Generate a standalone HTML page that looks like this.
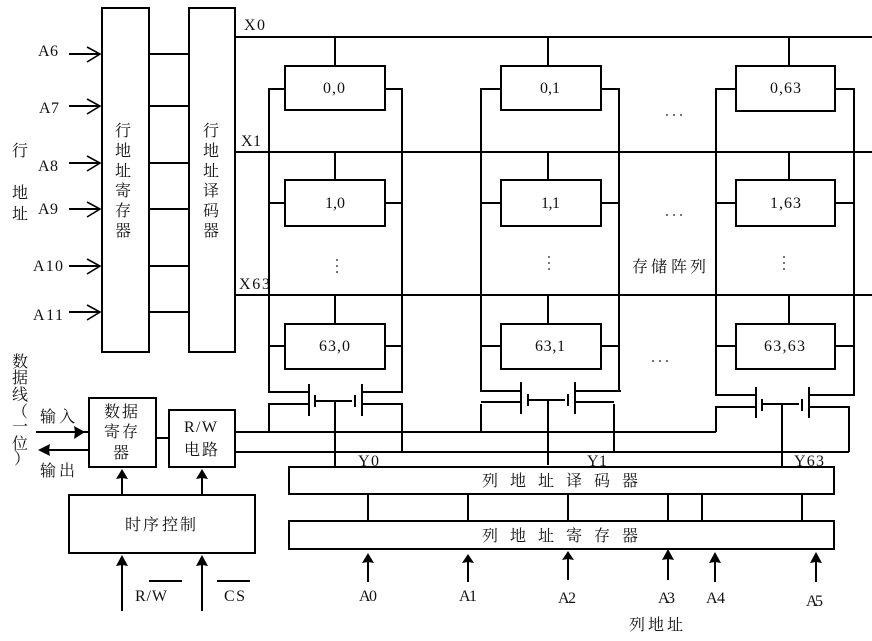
<!DOCTYPE html>
<html><head><meta charset="utf-8">
<style>
html,body{margin:0;padding:0;background:#fff}
svg{display:block}
.l{stroke:#000;stroke-width:2;fill:none;shape-rendering:crispEdges}
.o{stroke:#000;stroke-width:1.6;fill:none}
.b{stroke:#000;stroke-width:2;fill:#fff;shape-rendering:crispEdges}
.a{fill:#000;stroke:none}
text{fill:#111}
.c{font-family:"Liberation Serif","Noto Serif CJK SC",serif;font-size:16px}
.m{font-family:"Liberation Serif",serif;font-size:16px}
.d{fill:#777;stroke:none}
</style></head><body>
<svg width="872" height="641" viewBox="0 0 872 641" xmlns="http://www.w3.org/2000/svg">
<rect width="872" height="641" fill="#fff"/>

<!-- labels under lines -->
<g class="m">
<text x="244" y="30" textLength="21" lengthAdjust="spacing">X0</text>
<text x="241" y="146" textLength="20" lengthAdjust="spacing">X1</text>
<text x="239" y="289" textLength="31" lengthAdjust="spacing">X63</text>
<text x="358" y="466" textLength="21" lengthAdjust="spacing">Y0</text>
<text x="587" y="466" textLength="20" lengthAdjust="spacing">Y1</text>
<text x="794" y="466" textLength="30" lengthAdjust="spacing">Y63</text>
</g>

<!-- row registers -->
<rect class="b" x="102" y="8" width="47" height="344"/>
<rect class="b" x="189" y="8" width="46" height="344"/>
<path class="l" d="M69 54H100M69 106H100M69 163H100M69 209H100M69 266H100M69 312H100"/>
<path class="o" d="M87 47L100 54L87 62M87 99L100 106L87 114M87 156L100 163L87 171M87 202L100 209L87 217M87 259L100 266L87 274M87 305L100 312L87 320"/>
<path class="l" d="M149 54H189M149 106H189M149 163H189M149 209H189M149 266H189M149 312H189"/>

<!-- word lines -->
<path class="l" d="M235 37H872M235 152H872M235 295H872"/>

<!-- rails -->
<path class="l" d="M285 89H269V392H309M385 89H402V392H362"/>
<path class="l" d="M501 89H481V391H521M601 89H619V391H575M619 391H621"/>
<path class="l" d="M736 89H716V395H756M835 89H854V395H809"/>
<path class="l" d="M269 203H285M385 203H403M481 203H501M601 203H619M716 203H736M835 203H854"/>
<path class="l" d="M269 346H285M385 346H403M481 346H501M601 346H619M716 346H736M835 346H854"/>

<!-- cell taps -->
<path class="l" d="M335 37V66M335 152V180M335 295V324M548 37V66M548 152V180M548 295V324M789 37V66M789 152V180M789 295V324"/>

<!-- cells -->
<rect class="b" x="285" y="66" width="100" height="44"/>
<rect class="b" x="285" y="180" width="100" height="46"/>
<rect class="b" x="285" y="324" width="100" height="45"/>
<rect class="b" x="501" y="66" width="100" height="44"/>
<rect class="b" x="501" y="180" width="100" height="46"/>
<rect class="b" x="501" y="324" width="100" height="45"/>
<rect class="b" x="736" y="66" width="99" height="45"/>
<rect class="b" x="736" y="180" width="99" height="46"/>
<rect class="b" x="736" y="324" width="99" height="45"/>

<!-- transistors -->
<path class="l" d="M309 384V416M315 395V407M315 401H352M355 395V407M362 384V416"/>
<path class="l" d="M269 432V404H309M362 404H402V452"/>
<path class="l" d="M335 401V467"/>
<path class="l" d="M521 382V414M528 394V406M528 400H565M568 394V406M575 382V414"/>
<path class="l" d="M481 402H521M481 404V432M575 402H614M614 404V452"/>
<path class="l" d="M548 400V465"/>
<path class="l" d="M756 387V418M762 399V411M762 404H799M802 399V411M809 387V418"/>
<path class="l" d="M716 432V407H756M809 407H849V452"/>
<path class="l" d="M782 404V467"/>

<!-- bit lines -->
<path class="l" d="M235 432H716M235 452H849"/>

<!-- column decoder/register -->
<rect class="b" x="289" y="467" width="545" height="27"/>
<rect class="b" x="289" y="521" width="545" height="28"/>
<path class="l" d="M368 494V521M468 494V521M568 494V521M668 494V521M702 494V521M802 494V521"/>

<!-- column arrows -->
<path class="l" d="M368 560V582M468 560V582M568 558V580M668 556V580M715 560V582M816 560V582"/>
<path class="a" d="M368 553L374 563L368 562L362 563Z"/>
<path class="a" d="M468 554L474 563L468 562L462 563Z"/>
<path class="a" d="M568 551L574 560L568 559L562 560Z"/>
<path class="a" d="M668 549L674 560L668 559L662 560Z"/>
<path class="a" d="M715 552L721 563L715 562L709 563Z"/>
<path class="a" d="M816 552L822 563L816 562L810 563Z"/>

<!-- data blocks -->
<rect class="b" x="89" y="398" width="67" height="69"/>
<rect class="b" x="169" y="410" width="66" height="57"/>
<path class="l" d="M156 438H169"/>
<rect class="b" x="69" y="495" width="186" height="58"/>

<path class="l" d="M36 432H89M44 450H89"/>
<path class="a" d="M85 432L74 426L75 432L74 439Z"/>
<path class="a" d="M38 450L50 444L49 450L50 456Z"/>

<path class="l" d="M122 477V495M202 477V495M122 564V611M202 564V611"/>
<path class="a" d="M122 469L128 479L122 478L116 479Z"/>
<path class="a" d="M202 469L208 479L202 478L196 479Z"/>
<path class="a" d="M122 555L128 566L122 565L116 566Z"/>
<path class="a" d="M202 555L208 566L202 565L196 566Z"/>
<path class="l" d="M149 581H182M217 581H250"/>

<!-- dots -->
<g class="d">
<rect x="336" y="259" width="2" height="2"/><rect x="336" y="265" width="2" height="2"/><rect x="336" y="271" width="2" height="2"/>
<rect x="548" y="256" width="2" height="2"/><rect x="548" y="262" width="2" height="2"/><rect x="548" y="268" width="2" height="2"/>
<rect x="783" y="256" width="2" height="2"/><rect x="783" y="262" width="2" height="2"/><rect x="783" y="268" width="2" height="2"/>
<rect x="666" y="114" width="2" height="2"/><rect x="673" y="114" width="2" height="2"/><rect x="680" y="114" width="2" height="2"/>
<rect x="666" y="214" width="2" height="2"/><rect x="673" y="214" width="2" height="2"/><rect x="680" y="214" width="2" height="2"/>
<rect x="652" y="360" width="2" height="2"/><rect x="659" y="360" width="2" height="2"/><rect x="666" y="360" width="2" height="2"/>
</g>

<!-- address labels -->
<g class="m">
<text x="38" y="56" textLength="20" lengthAdjust="spacing">A6</text>
<text x="39" y="113" textLength="20" lengthAdjust="spacing">A7</text>
<text x="38" y="171" textLength="20" lengthAdjust="spacing">A8</text>
<text x="38" y="214" textLength="20" lengthAdjust="spacing">A9</text>
<text x="33" y="271" textLength="30" lengthAdjust="spacing">A10</text>
<text x="33" y="320" textLength="30" lengthAdjust="spacing">A11</text>
<text x="359" y="601" textLength="18" lengthAdjust="spacing">A0</text>
<text x="459" y="601" textLength="18" lengthAdjust="spacing">A1</text>
<text x="558" y="603" textLength="18" lengthAdjust="spacing">A2</text>
<text x="658" y="603" textLength="17" lengthAdjust="spacing">A3</text>
<text x="706" y="603" textLength="19" lengthAdjust="spacing">A4</text>
<text x="806" y="606" textLength="17" lengthAdjust="spacing">A5</text>
<text x="135" y="601" textLength="32" lengthAdjust="spacing">R/W</text>
<text x="224" y="601" textLength="21" lengthAdjust="spacing">CS</text>
<text x="184" y="432" textLength="33" lengthAdjust="spacing">R/W</text>
</g>

<!-- cell labels -->
<g class="m">
<text x="323" y="93" textLength="22" lengthAdjust="spacing">0,0</text>
<text x="540" y="93" textLength="20" lengthAdjust="spacing">0,1</text>
<text x="770" y="93" textLength="31" lengthAdjust="spacing">0,63</text>
<text x="325" y="208" textLength="20" lengthAdjust="spacing">1,0</text>
<text x="541" y="208" textLength="19" lengthAdjust="spacing">1,1</text>
<text x="770" y="208" textLength="31" lengthAdjust="spacing">1,63</text>
<text x="319" y="351" textLength="31" lengthAdjust="spacing">63,0</text>
<text x="535" y="351" textLength="30" lengthAdjust="spacing">63,1</text>
<text x="764" y="351" textLength="41" lengthAdjust="spacing">63,63</text>
</g>

<!-- CJK labels -->
<g class="c" text-anchor="middle">
<text x="20" y="156">行</text>
<text x="20" y="198">地</text>
<text x="20" y="219">址</text>

<text x="123" y="136">行</text><text x="123" y="156">地</text><text x="123" y="176">址</text><text x="123" y="196">寄</text><text x="123" y="216">存</text><text x="123" y="236">器</text>
<text x="211" y="136">行</text><text x="211" y="156">地</text><text x="211" y="176">址</text><text x="211" y="196">译</text><text x="211" y="216">码</text><text x="211" y="236">器</text>

<text x="20" y="367">数</text><text x="20" y="383">据</text><text x="20" y="400">线</text>
<text x="20" y="417">（</text><text x="20" y="432">一</text><text x="20" y="449">位</text><text x="22" y="464">）</text>

<text x="48" y="422">输</text><text x="67" y="422">入</text>
<text x="48" y="476">输</text><text x="67" y="476">出</text>
<text x="112" y="417">数</text><text x="130" y="417">据</text>
<text x="112" y="437">寄</text><text x="130" y="437">存</text>
<text x="121" y="458">器</text>
<text x="192" y="455">电</text><text x="210" y="455">路</text>
<text x="133" y="530">时</text><text x="151" y="530">序</text><text x="170" y="530">控</text><text x="188" y="530">制</text>

<text x="640" y="272">存</text><text x="659" y="272">储</text><text x="679" y="272">阵</text><text x="698" y="272">列</text>

<text x="490" y="486">列</text><text x="518" y="486">地</text><text x="546" y="486">址</text><text x="574" y="486">译</text><text x="602" y="486">码</text><text x="630" y="486">器</text>
<text x="490" y="541">列</text><text x="518" y="541">地</text><text x="546" y="541">址</text><text x="574" y="541">寄</text><text x="602" y="541">存</text><text x="630" y="541">器</text>

<text x="637" y="630">列</text><text x="656" y="630">地</text><text x="675" y="630">址</text>
</g>
</svg>
</body></html>
